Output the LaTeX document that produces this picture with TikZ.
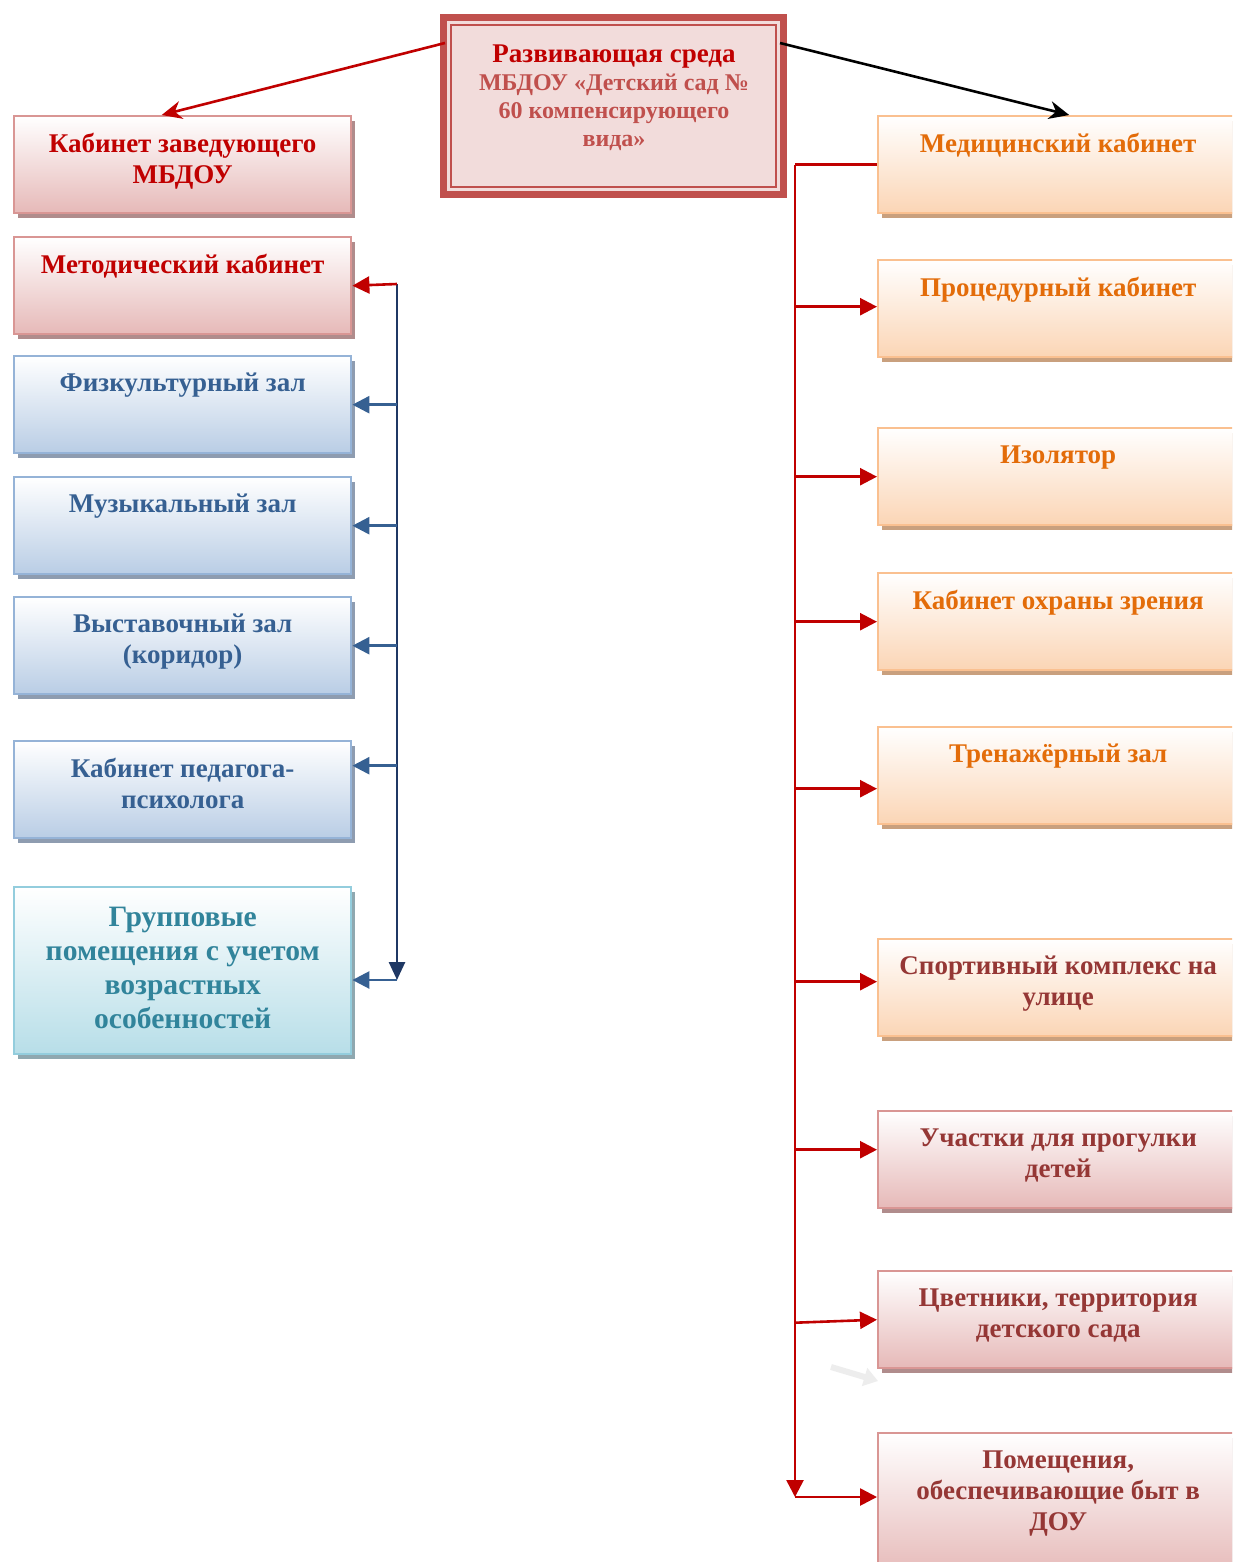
\documentclass[tikz,border=0pt]{standalone}
\usepackage{fontspec}
\setmainfont{Liberation Serif}
\usetikzlibrary{arrows.meta,shadows,calc}
\definecolor{redtxt}{HTML}{C00000}
\definecolor{brtxt}{HTML}{953735}
\definecolor{bluetxt}{HTML}{366092}
\definecolor{tealtxt}{HTML}{31849B}
\definecolor{orgtxt}{HTML}{E36C09}
\definecolor{rb}{HTML}{D99694}
\definecolor{rf}{HTML}{E6B9B8}
\definecolor{rs}{HTML}{B08C8C}
\definecolor{bb}{HTML}{95B3D7}
\definecolor{bf}{HTML}{B9CDE5}
\definecolor{bs}{HTML}{8E9CB0}
\definecolor{tb}{HTML}{93CDDD}
\definecolor{tf}{HTML}{B7DEE8}
\definecolor{ts}{HTML}{8FA8B0}
\definecolor{ob}{HTML}{FAC090}
\definecolor{of}{HTML}{FBD5B5}
\definecolor{os}{HTML}{C9A07E}
\definecolor{topdark}{HTML}{C0504D}
\definecolor{topfill}{HTML}{F2DCDB}
\definecolor{navy}{HTML}{1F3864}
\tikzset{
  basebox/.style={line width=1.2pt, minimum width=168.5pt, anchor=north west, inner sep=0pt},
  redbox/.style={basebox, draw=rb, top color=white, bottom color=rf,
     drop shadow={shadow xshift=2pt, shadow yshift=-2.5pt, fill=rs, opacity=1}},
  bluebox/.style={basebox, draw=bb, top color=white, bottom color=bf,
     drop shadow={shadow xshift=2pt, shadow yshift=-2.5pt, fill=bs, opacity=1}},
  tealbox/.style={basebox, draw=tb, top color=white, bottom color=tf,
     drop shadow={shadow xshift=2pt, shadow yshift=-2.5pt, fill=ts, opacity=1}},
  orgbox/.style={basebox, minimum width=180pt, draw=ob, top color=white, bottom color=of,
     drop shadow={shadow xshift=2pt, shadow yshift=-2.5pt, fill=os, opacity=1}},
  redrbox/.style={redbox, minimum width=180pt},
  boxtext/.style={anchor=north, inner sep=0pt, align=center,
     font=\bfseries\fontsize{13.5}{15.5}\selectfont},
  redarr/.style={draw=redtxt, line width=1.3pt, -{Triangle[length=8.5pt,width=8.5pt]}},
  bluearr/.style={draw=bluetxt, line width=1.3pt, -{Triangle[length=8.5pt,width=8.5pt]}},
  redline/.style={draw=redtxt, line width=1.3pt},
}
\newcommand\mkbox[7]{%
  \node[#2, minimum height=#5] (#1) at (#3,#4) {};
  \node[boxtext, text=#6] (#1t) at ([yshift=-8.75pt]#1.north) {\rule{0pt}{9.5pt}#7};
}
\begin{document}
\begin{tikzpicture}[x=0.5pt,y=-0.5pt]
\useasboundingbox (0,0) rectangle (1232,1562);
\clip (0,0) rectangle (1232,1562);
\fill[white] (0,0) rectangle (1232,1562);

% top box
\node[fill=topdark, minimum width=173.5pt, minimum height=92pt, anchor=north west, inner sep=0pt] (tp) at (440,14) {};
\node[fill=topfill, minimum width=166.5pt, minimum height=85pt, inner sep=0pt] (tpin) at (tp.center) {};
\node[draw=topdark, line width=1pt, fill=topfill, minimum width=162.5pt, minimum height=81pt, inner sep=0pt] (tpfr) at (tp.center) {};
\node[anchor=north, inner sep=0pt, align=center, font=\bfseries\fontsize{12}{14}\selectfont, text=topdark] (tpt) at (614,43.5)
  {\rule{0pt}{9.5pt}\textcolor{redtxt}{\fontsize{13.5}{14}\selectfont Развивающая среда}\\МБДОУ «Детский сад №\\60 компенсирующего\\вида»};

% left column
\mkbox{kz}{redbox}{13}{115}{48.5pt}{redtxt}{Кабинет заведующего\\МБДОУ}
\mkbox{met}{redbox}{13}{236}{48.5pt}{redtxt}{Методический кабинет}
\mkbox{fiz}{bluebox}{13}{355}{48.5pt}{bluetxt}{Физкультурный зал}
\mkbox{muz}{bluebox}{13}{476}{48.5pt}{bluetxt}{Музыкальный зал}
\mkbox{vys}{bluebox}{13}{596}{48.5pt}{bluetxt}{Выставочный зал\\(коридор)}
\mkbox{psy}{bluebox}{13}{740}{48.5pt}{bluetxt}{Кабинет педагога-\\психолога}
\node[tealbox, minimum height=83.5pt] (grp) at (13,886) {};
\node[boxtext, text=tealtxt, font=\bfseries\fontsize{14.8}{17}\selectfont] (grpt) at ([yshift=-9.5pt]grp.north)
  {\rule{0pt}{10.5pt}Групповые\\помещения с учетом\\возрастных\\особенностей};

% right column
\mkbox{med}{orgbox}{877}{115}{48.5pt}{orgtxt}{Медицинский кабинет}
\mkbox{proc}{orgbox}{877}{259}{48.5pt}{orgtxt}{Процедурный кабинет}
\mkbox{izo}{orgbox}{877}{427}{48.5pt}{orgtxt}{Изолятор}
\mkbox{ohr}{orgbox}{877}{572}{48.5pt}{orgtxt}{Кабинет охраны зрения}
\mkbox{tren}{orgbox}{877}{726}{48.5pt}{orgtxt}{Тренажёрный зал}
\mkbox{sport}{orgbox}{877}{938}{48.5pt}{brtxt}{Спортивный комплекс на\\улице}
\mkbox{uch}{redrbox}{877}{1110}{48.5pt}{brtxt}{Участки для прогулки\\детей}
\mkbox{cvet}{redrbox}{877}{1270}{48.5pt}{brtxt}{Цветники, территория\\детского сада}
\mkbox{pom}{redrbox}{877}{1432}{72pt}{brtxt}{Помещения,\\обеспечивающие быт в\\ДОУ}

% connectors from top box
\coordinate (tpL) at (445,43);
\coordinate (tpR) at (780,43);
\draw[draw=redtxt, line width=1.3pt, -{Stealth[length=10pt,width=9pt]}] (tpL) -- ($(kz.north)+(-21,0)$);
\draw[draw=black, line width=1.3pt, -{Stealth[length=10pt,width=9pt]}] (tpR) -- ($(med.north)+(11,0)$);

% right trunk
\coordinate (rtr) at (795,0);
\coordinate (rbot) at (795,1497);
\draw[redline] (med.west) -- (med.west -| rtr);
\draw[redarr] (med.west -| rtr) -- (rbot);
\draw[redarr] ($(proc.west -| rtr)+(0,-2)$) -- ($(proc.west)+(0,-2)$);
\draw[redarr] (izo.west -| rtr) -- (izo.west);
\draw[redarr] (ohr.west -| rtr) -- (ohr.west);
\draw[redarr] ($(tren.west -| rtr)+(0,13)$) -- ($(tren.west)+(0,13)$);
\draw[redarr] ($(sport.west -| rtr)+(0,-6)$) -- ($(sport.west)+(0,-6)$);
\draw[redarr] ($(uch.west -| rtr)+(0,-10)$) -- ($(uch.west)+(0,-10)$);
\draw[redarr] ($(cvet.west -| rtr)+(0,3)$) -- ($(cvet.west)+(0,0)$);
\draw[redarr] (rbot) -- (rbot -| pom.west);

% left trunk
\coordinate (ltop) at (397,284);
\coordinate (lbot) at (397,980);
\draw[draw=navy, line width=1.3pt, -{Triangle[length=9pt,width=8pt]}] (ltop) -- (lbot);
\draw[redarr] (ltop) -- (met.east);
\draw[bluearr] (fiz.east -| ltop) -- (fiz.east);
\draw[bluearr] (muz.east -| ltop) -- (muz.east);
\draw[bluearr] (vys.east -| ltop) -- (vys.east);
\draw[bluearr] ($(psy.east -| ltop)+(0,-24)$) -- ($(psy.east)+(0,-24)$);
\draw[bluearr] (lbot) -- (lbot -| grp.east);

% faint arrow
\coordinate (fa1) at (831,1367);
\coordinate (fa2) at (878,1381);
\draw[draw=black!7, line width=3pt, -{Triangle[length=7pt,width=9pt]}] (fa1) -- (fa2);
\end{tikzpicture}
\end{document}
